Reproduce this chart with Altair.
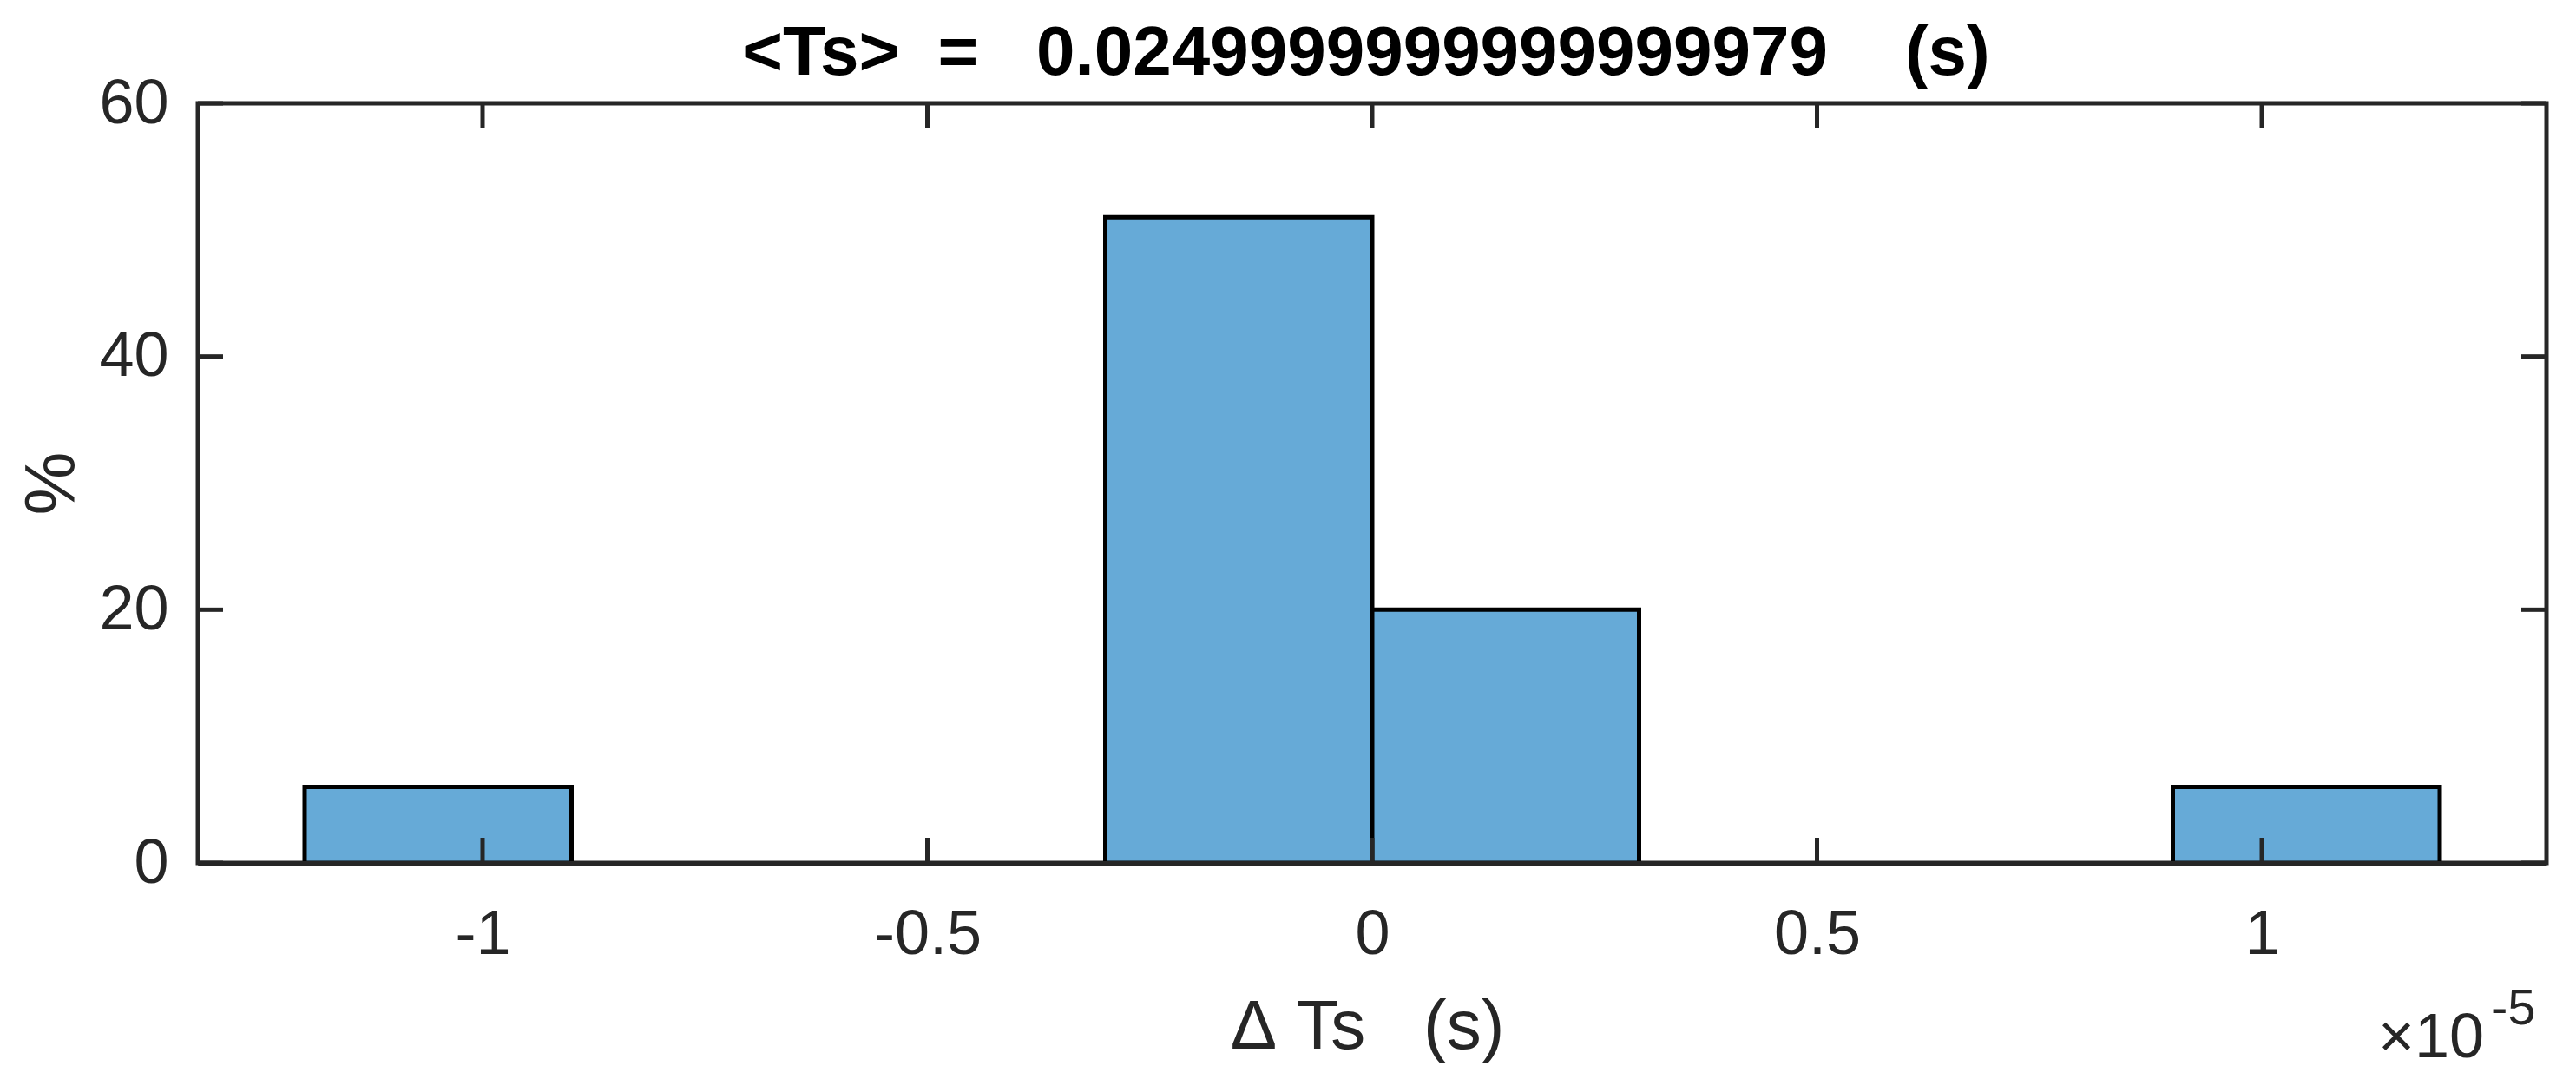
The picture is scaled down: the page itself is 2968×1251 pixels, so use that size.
import altair as alt
import pandas as pd

# ---- data (x in units of 1e-5 s, y in %) ----
bin_left = [-1.2, -0.3, 0.0, 0.9]
bin_right = [-0.9, 0.0, 0.3, 1.2]
percent = [6, 51, 20, 6]
x_ticks = [-1, -0.5, 0, 0.5, 1]
y_ticks = [0, 20, 40, 60]

NB = "\u00a0"
title_text = ["<Ts>" + NB * 2 + "=" + NB * 3 + "0.0249999999999999979" + NB * 4 + "(s)"]
x_title = "Δ" + NB + "Ts" + NB * 3 + "(s)"
y_title = "%"
exp_base = ["×10"]
exp_power = ["-5"]

W, H = 2706, 875
FONT = "Liberation Sans"
AX = "#262626"
SW = 5
TICK = 29

bars_df = pd.DataFrame({"x0": bin_left, "x1": bin_right, "pct": percent})
xt_df = pd.DataFrame({"v": x_ticks})
yt_df = pd.DataFrame({"v": y_ticks})

xs = alt.Scale(domain=[-1.32, 1.32], nice=False, zero=False)
ys = alt.Scale(domain=[0, 60], nice=False, zero=False)

x_axis = alt.Axis(
    values=x_ticks, labelExpr="'' + datum.value", title=x_title,
    ticks=False, tickSize=0, grid=False, domain=True, domainColor=AX, domainWidth=SW,
    labelFont=FONT, labelFontSize=72, labelColor=AX, labelBaseline="alphabetic",
    labelPadding=104, labelFlush=False,
    titleFont=FONT, titleFontSize=80, titleFontWeight="normal", titleColor=AX,
    titleBaseline="alphabetic", titleX=1347, titleY=213, titleAlign="center",
    zindex=1,
)
y_axis = alt.Axis(
    values=y_ticks, title=y_title,
    ticks=False, tickSize=0, grid=False, domain=True, domainColor=AX, domainWidth=SW,
    labelFont=FONT, labelFontSize=72, labelColor=AX, labelBaseline="middle",
    labelPadding=34, labelFlush=False,
    titleFont=FONT, titleFontSize=82, titleFontWeight="normal", titleColor=AX,
    titleBaseline="alphabetic", titleAngle=270, titleAlign="center",
    titleX=-143, titleY=H / 2,
    zindex=1,
)

bars = alt.Chart(bars_df).mark_rect(
    fill="#66AAD7", stroke="#000000", strokeWidth=SW
).encode(
    x=alt.X("x0:Q", scale=xs, axis=x_axis),
    x2="x1:Q",
    y=alt.Y("pct:Q", scale=ys, axis=y_axis),
    y2=alt.datum(0),
)

tick_mark = dict(color=AX, strokeWidth=SW)
xb = alt.Chart(xt_df).mark_rule(**tick_mark).encode(
    x=alt.X("v:Q", scale=xs, axis=x_axis), y=alt.value(H), y2=alt.value(H - TICK))
xtp = alt.Chart(xt_df).mark_rule(**tick_mark).encode(
    x=alt.X("v:Q", scale=xs, axis=x_axis), y=alt.value(0), y2=alt.value(TICK))
yl = alt.Chart(yt_df).mark_rule(**tick_mark).encode(
    y=alt.Y("v:Q", scale=ys, axis=y_axis), x=alt.value(0), x2=alt.value(TICK))
yr = alt.Chart(yt_df).mark_rule(**tick_mark).encode(
    y=alt.Y("v:Q", scale=ys, axis=y_axis), x=alt.value(W - TICK), x2=alt.value(W))

ttl = alt.Chart(pd.DataFrame({"t": title_text})).mark_text(
    font=FONT, fontSize=80, fontWeight="bold", color="#000000",
    align="center", baseline="alphabetic"
).encode(x=alt.value(1346), y=alt.value(-33), text="t:N")

e1 = alt.Chart(pd.DataFrame({"t": exp_base})).mark_text(
    font=FONT, fontSize=72, color=AX, align="left", baseline="alphabetic"
).encode(x=alt.value(2512), y=alt.value(1099), text="t:N")
e2 = alt.Chart(pd.DataFrame({"t": exp_power})).mark_text(
    font=FONT, fontSize=58, color=AX, align="left", baseline="alphabetic"
).encode(x=alt.value(2642), y=alt.value(1061), text="t:N")

chart = alt.layer(bars, xb, xtp, yl, yr, ttl, e1, e2).properties(
    width=W, height=H,
    autosize=alt.AutoSizeParams(type="none"),
    padding={"left": 220, "top": 111, "right": 26, "bottom": 249},
    background="white",
).configure_view(
    stroke=AX, strokeWidth=SW
)

chart.save("out.html", embed_options={"renderer": "svg", "actions": False})
